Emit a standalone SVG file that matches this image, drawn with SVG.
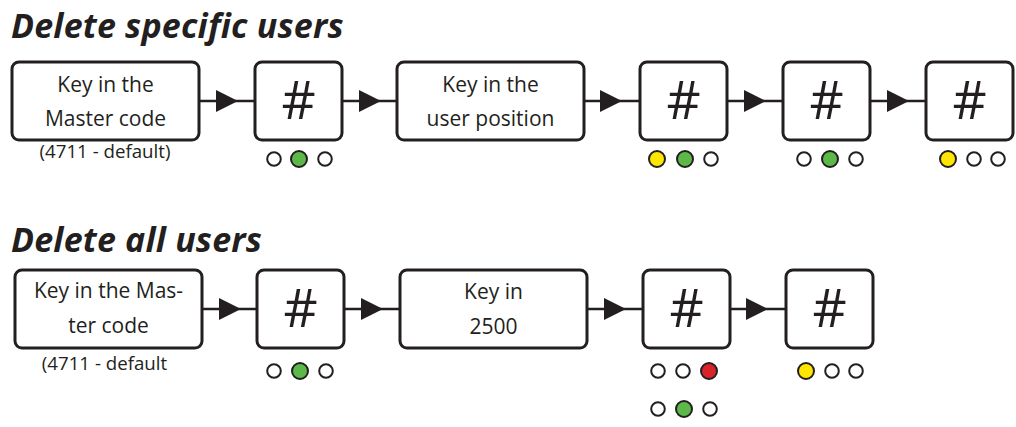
<svg xmlns="http://www.w3.org/2000/svg" width="1016" height="427" viewBox="0 0 1016 427">
<defs>
<style>
.box{fill:#fff;stroke:#231f20;stroke-width:3}
.t{font-family:"Open Sans","Liberation Sans",sans-serif;font-size:21px;fill:#231f20;text-anchor:middle}
.s{font-family:"Open Sans","Liberation Sans",sans-serif;font-size:18.7px;fill:#231f20;text-anchor:middle}
.h{font-family:"Open Sans","Liberation Sans",sans-serif;font-size:53px;fill:#231f20;text-anchor:middle}
.title{font-family:"Open Sans","Liberation Sans",sans-serif;font-size:34px;letter-spacing:0.2px;font-weight:bold;font-style:italic;fill:#231f20}
.c{fill:none;stroke:#231f20;stroke-width:2.5;marker-mid:url(#arr)}
.e{fill:#fff;stroke:#231f20;stroke-width:2}
.g{fill:#5cb848;stroke:#231f20;stroke-width:2}
.y{fill:#ffe600;stroke:#231f20;stroke-width:2}
.r{fill:#d8232a;stroke:#231f20;stroke-width:2}
</style>
<marker id="arr" markerUnits="userSpaceOnUse" markerWidth="23" markerHeight="23" refX="22" refY="11" orient="auto">
<path d="M0,0 L22,11 L0,22 Z" fill="#231f20"/>
</marker>
</defs>
<rect width="1016" height="427" fill="#fff"/>

<text class="title" x="11" y="38">Delete specific users</text>
<text class="title" x="11" y="252">Delete all users</text>

<g id="connectors">
<path class="c" d="M199,101 L238,101 L255,101"/>
<path class="c" d="M342,101 L381,101 L397,101"/>
<path class="c" d="M584,101 L622,101 L640,101"/>
<path class="c" d="M727,101 L766,101 L783,101"/>
<path class="c" d="M870,101 L909,101 L926,101"/>
<path class="c" d="M202,309 L241,309 L257,309"/>
<path class="c" d="M344,309 L383,309 L400,309"/>
<path class="c" d="M587,309 L626,309 L643,309"/>
<path class="c" d="M730,309 L768,309 L786,309"/>
</g>

<g id="s1-master">
<rect class="box" x="12" y="62" width="187" height="78" rx="7"/>
<text class="t" x="105.5" y="92">Key in the</text>
<text class="t" x="105.5" y="126">Master code</text>
<text class="s" x="105" y="158">(4711 - default)</text>
</g>
<g id="s1-hash1">
<rect class="box" x="255" y="62" width="87" height="78" rx="7"/>
<text class="h" x="298.5" y="119">#</text>
<circle class="e" cx="274" cy="159" r="6.8"/>
<circle class="g" cx="299" cy="159" r="8"/>
<circle class="e" cx="325" cy="159" r="6.8"/>
</g>
<g id="s1-position">
<rect class="box" x="397" y="62" width="187" height="78" rx="7"/>
<text class="t" x="490.5" y="92">Key in the</text>
<text class="t" x="490.5" y="126">user position</text>
</g>
<g id="s1-hash2">
<rect class="box" x="640" y="62" width="87" height="78" rx="7"/>
<text class="h" x="683.5" y="119">#</text>
<circle class="y" cx="657" cy="159" r="8"/>
<circle class="g" cx="685" cy="159" r="8"/>
<circle class="e" cx="711" cy="159" r="6.8"/>
</g>
<g id="s1-hash3">
<rect class="box" x="783" y="62" width="87" height="78" rx="7"/>
<text class="h" x="826.5" y="119">#</text>
<circle class="e" cx="804" cy="159" r="6.8"/>
<circle class="g" cx="830" cy="159" r="8"/>
<circle class="e" cx="856" cy="159" r="6.8"/>
</g>
<g id="s1-hash4">
<rect class="box" x="926" y="62" width="87" height="78" rx="7"/>
<text class="h" x="969.5" y="119">#</text>
<circle class="y" cx="948" cy="159" r="8"/>
<circle class="e" cx="974" cy="159" r="6.8"/>
<circle class="e" cx="998" cy="159" r="6.8"/>
</g>

<g id="s2-master">
<rect class="box" x="15" y="270" width="187" height="78" rx="7"/>
<text class="t" x="108.5" y="298">Key in the Mas-</text>
<text class="t" x="108.5" y="333">ter code</text>
<text class="s" x="104.5" y="370">(4711 - default</text>
</g>
<g id="s2-hash1">
<rect class="box" x="257" y="270" width="87" height="78" rx="7"/>
<text class="h" x="300.5" y="327">#</text>
<circle class="e" cx="274" cy="371" r="6.8"/>
<circle class="g" cx="300" cy="371" r="8"/>
<circle class="e" cx="326" cy="371" r="6.8"/>
</g>
<g id="s2-2500">
<rect class="box" x="400" y="270" width="187" height="78" rx="7"/>
<text class="t" x="493.5" y="299">Key in</text>
<text class="t" x="493.5" y="334">2500</text>
</g>
<g id="s2-hash2">
<rect class="box" x="643" y="270" width="87" height="78" rx="7"/>
<text class="h" x="686.5" y="327">#</text>
<circle class="e" cx="658" cy="371" r="6.8"/>
<circle class="e" cx="683" cy="371" r="6.8"/>
<circle class="r" cx="709" cy="371" r="8"/>
<circle class="e" cx="658" cy="409" r="6.8"/>
<circle class="g" cx="684" cy="409" r="8"/>
<circle class="e" cx="710" cy="409" r="6.8"/>
</g>
<g id="s2-hash3">
<rect class="box" x="786" y="270" width="87" height="78" rx="7"/>
<text class="h" x="829.5" y="327">#</text>
<circle class="y" cx="806" cy="371" r="8"/>
<circle class="e" cx="832" cy="371" r="6.8"/>
<circle class="e" cx="856" cy="371" r="6.8"/>
</g>
</svg>
